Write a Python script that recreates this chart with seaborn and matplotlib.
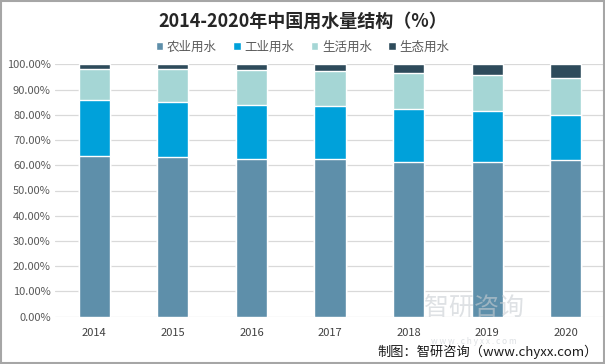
import matplotlib
matplotlib.use("Agg")
import matplotlib.pyplot as plt
from matplotlib.patches import Rectangle
from matplotlib.ticker import PercentFormatter
import numpy as np
import pandas as pd
import seaborn as sns

years = ["2014", "2015", "2016", "2017", "2018", "2019", "2020"]
agri = [63.5, 63.1, 62.4, 62.3, 61.4, 61.2, 62.1]
industry = [22.2, 21.9, 21.6, 21.1, 21.0, 20.2, 17.7]
domestic = [12.6, 13.0, 13.6, 13.9, 14.3, 14.5, 14.9]
eco = [1.7, 2.0, 2.4, 2.7, 3.3, 4.1, 5.3]

names = ["农业用水", "工业用水", "生活用水", "生态用水"]
colors = ["#5E8FAA", "#00A1DA", "#A5D6D5", "#2E4B5B"]

sns.set_theme(style="white")
plt.rcParams["font.family"] = ["Noto Sans CJK SC", "DejaVu Sans"]

fig = plt.figure(figsize=(6.05, 3.64), dpi=100)
ax = fig.add_axes([55 / 605, 47.3 / 364, 550 / 605, 252.4 / 364])

# stacked bars: draw running totals from the top layer down
layers = np.array([agri, industry, domestic, eco])
tops = np.cumsum(layers, axis=0)
for i in range(3, -1, -1):
    df = pd.DataFrame({"year": years, "value": tops[i]})
    sns.barplot(data=df, x="year", y="value", color=colors[i], width=0.395,
                saturation=1, ax=ax, label=names[i])

ax.set_ylim(0, 100)
ax.set_xlim(-0.5, 6.5)
ax.set_yticks(np.arange(0, 101, 10))
ax.yaxis.set_major_formatter(PercentFormatter(decimals=2))
ax.grid(axis="y", color="#D9D9D9", linewidth=0.9)
ax.set_axisbelow(True)
for s in ax.spines.values():
    s.set_visible(False)
ax.set_xlabel("")
ax.set_ylabel("")
ax.tick_params(axis="y", labelsize=8, labelcolor="#595959", length=0, pad=3)
ax.tick_params(axis="x", labelsize=8, labelcolor="#404040", length=0, pad=8)

handles, labels = ax.get_legend_handles_labels()
order = [labels.index(n) for n in names]
fig.legend([handles[k] for k in order], names, loc="center", bbox_to_anchor=(0.5, 1 - 47 / 364),
           ncol=4, frameon=False, fontsize=9, labelcolor="#595959", handlelength=0.6,
           handleheight=0.6, handletextpad=0.3, columnspacing=1.3)
if ax.get_legend():
    ax.get_legend().remove()

fig.text(0.5, 1 - 21 / 364, "2014-2020年中国用水量结构（%）", ha="center", va="center",
         fontsize=13, fontweight="bold", color="#262626")

# watermark
fig.text(474 / 605, 1 - 308 / 364, "智研咨询", ha="center", va="center", fontsize=18,
         color="#C8CDD2", alpha=0.6)
fig.text(474 / 605, 1 - 341 / 364, "w w w . c h y x x . c o m", ha="center", va="center",
         fontsize=6, color="#C8CDD2", alpha=0.6)

fig.text(598 / 605, 1 - 352 / 364, "制图：智研咨询（www.chyxx.com）", ha="right", va="center",
         fontsize=9.5, color="#1A1A1A")

fig.patches.append(Rectangle((0.001, 0.002), 0.997, 0.995, transform=fig.transFigure,
                             fill=False, edgecolor="#A6A6A6", linewidth=1.5))

fig.savefig("out.png", dpi=100)
